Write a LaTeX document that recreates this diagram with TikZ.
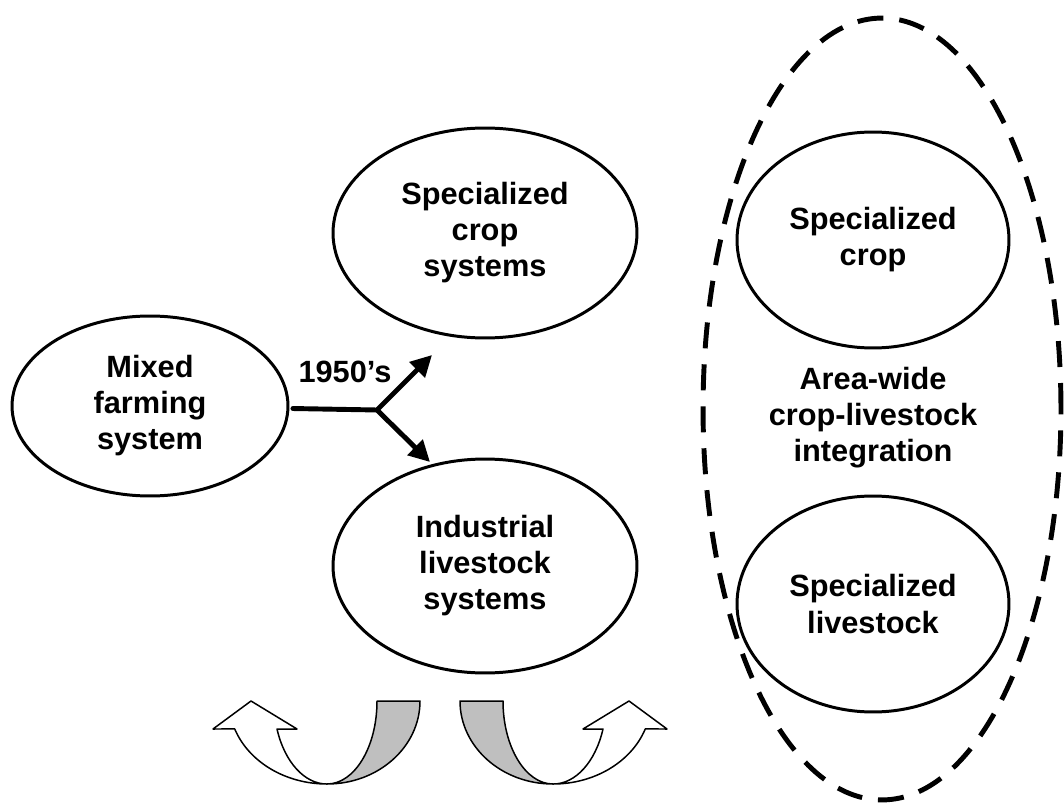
\documentclass[tikz,border=0pt]{standalone}
\usepackage{fontspec}
\setmainfont{Liberation Sans}
\usetikzlibrary{arrows.meta, shapes.geometric}

\begin{document}
\begin{tikzpicture}[
    x=0.02cm, y=0.02cm,
    sys/.style 2 args={ellipse, draw, line width=1.7pt, inner sep=0pt, align=center,
        font=\bfseries\fontsize{17.5}{20.5}\selectfont, minimum width=#1cm, minimum height=#2cm},
    zone/.style={ellipse, draw, line width=2.8pt, dash pattern=on 0.52cm off 0.32cm,
        inner sep=0pt, minimum width=7.16cm, minimum height=15.64cm},
    lbl/.style={align=center, font=\bfseries\fontsize{17.5}{20.5}\selectfont},
    flow/.style={line width=2.8pt, line cap=round, line join=round},
    tip/.style={-{Triangle[length=12pt, width=12pt]}},
    band/.style={line width=0.85pt, line join=round}
]
    \useasboundingbox (0,0) rectangle (1064,-803);

    % left part: mixed farming splits in two
    \node[sys={5.52}{3.6}] (mixed) at (150,-406) {Mixed\\farming\\system};
    \node[sys={6.08}{4.2}] (cropsys) at (485,-233) {Specialized\\crop\\systems};
    \node[sys={6.08}{4.28}] (livesys) at (485,-566) {Industrial\\livestock\\systems};

    \coordinate (fork) at (377,-410);
    \coordinate (upend) at (432,-355);
    \coordinate (downend) at (430,-462);
    \node[lbl] (year) at (345,-372) {1950’s};

    \draw[flow, tip, shorten <=2pt] (mixed) -- (fork) -- (upend);
    \draw[flow, tip] (fork) -- (downend);

    % right part: integration zone
    \node[zone] (area) at (882,-409) {};
    \node[sys={5.44}{4.32}] (spccrop) at (873,-240) {Specialized\\crop};
    \node[lbl] (integ) at (873,-418) {Area-wide\\crop-livestock\\integration};
    \node[sys={5.44}{4.32}] (spclive) at (873,-604) {Specialized\\livestock};

    % curved arrows at the bottom (second one mirrored)
    \foreach \side in {1,-1}{
        \begin{scope}[shift={(440,-701)}, xscale=\side]
            \draw[band, fill=gray!50] (-63,0)
                arc[start angle=0, end angle=-90, x radius=50, y radius=83]
                arc[start angle=-90, end angle=0, x radius=93, y radius=83] -- cycle;
            \draw[band, fill=white] (-113,-83)
                arc[start angle=-90, end angle=-160.3, x radius=98, y radius=83]
                -- (-227,-28) -- (-189,0) -- (-143,-28) -- (-163,-28)
                arc[start angle=-160.3, end angle=-90, x radius=53, y radius=83] -- cycle;
        \end{scope}
    }
\end{tikzpicture}
\end{document}
